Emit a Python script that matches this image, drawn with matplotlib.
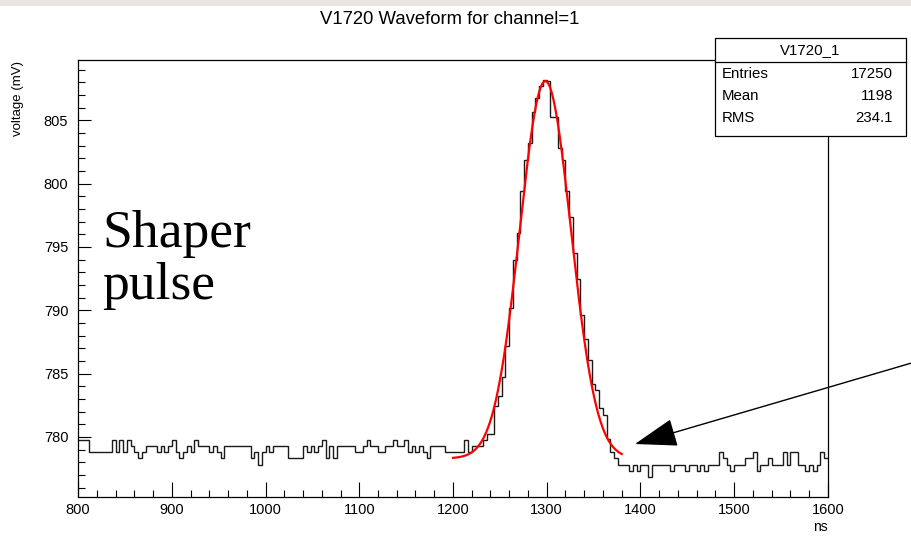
import numpy as np
import matplotlib
matplotlib.use("Agg")
import matplotlib.pyplot as plt
from matplotlib.patches import Rectangle

# ---------------- data ----------------
bin_start = 800.0      # ns
bin_width = 4.0        # ns

baseline_pre_mv = [
    779.77, 779.77, 779.77, 778.79, 778.79, 778.79, 778.79, 778.79, 778.79, 779.77,
    778.79, 779.77, 778.79, 779.77, 779.28, 778.79, 778.30, 778.79, 779.28, 779.28,
    779.28, 778.79, 779.28, 778.79, 779.28, 779.77, 778.79, 778.30, 778.79, 779.28,
    778.79, 779.77, 779.28, 779.28, 779.28, 778.79, 779.28, 778.79, 778.30, 779.28,
    779.28, 779.28, 779.28, 779.28, 779.28, 779.28, 778.30, 778.79, 777.81, 778.79,
    779.28, 778.79, 779.28, 779.28, 779.28, 779.28, 778.30, 778.30, 778.30, 778.30,
    779.28, 778.79, 779.28, 778.79, 779.28, 779.77, 778.30, 779.28, 778.30, 779.28,
    779.28, 779.28, 779.28, 779.28, 778.79, 778.79, 779.28, 779.77, 779.28, 779.28,
    778.79, 778.79, 779.28, 779.28, 779.77, 779.28, 779.28, 779.77, 778.79, 779.28,
    778.79, 779.28, 778.79, 778.30, 779.28, 779.28, 779.28, 779.28, 778.79, 778.79,
    778.79, 778.79, 778.79,
]

pulse_mv = [
    779.77, 778.79, 779.28, 779.28, 779.28, 779.77, 780.26, 780.26, 782.40, 783.20,
    784.70, 787.20, 790.20, 794.00, 796.10, 799.40, 801.90, 803.20, 805.70, 806.80,
    807.70, 808.20, 808.10, 805.30, 805.30, 802.80, 801.90, 799.40, 797.40, 794.50,
    792.50, 789.60, 787.70, 786.10, 784.20, 783.70, 782.30, 781.70, 779.80, 778.80,
    778.30, 777.81,
]

baseline_post_mv = [
    777.81, 777.81, 777.32, 777.81, 777.32, 777.81, 777.81, 776.83, 777.81, 777.81,
    777.81, 777.81, 777.81, 777.32, 777.81, 777.81, 777.81, 777.32, 777.81, 777.81,
    777.32, 777.81, 777.32, 777.81, 777.81, 777.81, 778.79, 778.30, 777.81, 777.32,
    777.81, 777.81, 777.81, 778.30, 778.30, 778.79, 777.32, 777.81, 777.81, 778.30,
    777.81, 777.81, 777.81, 778.79, 777.81, 778.79, 778.79, 777.81, 777.81, 777.32,
    777.81, 777.32, 777.81, 778.79, 778.30,
]

# Gaussian fit (red curve) parameters
fit_const = 778.30
fit_amp = 29.8
fit_mean = 1298.5
fit_sigma = 27.3
fit_range = (1200.0, 1380.0)

title = "V1720 Waveform for channel=1"
stats_name = "V1720_1"
stats_labels = ["Entries", "Mean", "RMS"]
stats_values = ["17250", "1198", "234.1"]

x_ticks = [800, 900, 1000, 1100, 1200, 1300, 1400, 1500, 1600]
y_ticks = [780, 785, 790, 795, 800, 805]

# ---------------- figure ----------------
W, H = 912, 546
fig = plt.figure(figsize=(W / 100, H / 100), dpi=100)
plt.rcParams['font.family'] = ['Liberation Sans', 'DejaVu Sans']

def fx(px):
    return px / W

def fy(py):
    return 1 - py / H

# light grey strip at the very top
fig.add_artist(Rectangle((0, fy(6)), 1, 6 / H, transform=fig.transFigure,
                         color='#e9e6e2', lw=0, zorder=0))

ax = fig.add_axes([fx(78), fy(497), fx(828) - fx(78), fy(60) - fy(497)])

values = np.array(baseline_pre_mv + pulse_mv + baseline_post_mv)
edges = bin_start + bin_width * np.arange(len(values) + 1)
ax.stairs(values, edges, color='#1a1a1a', lw=1.0, baseline=None)

xf = np.linspace(fit_range[0], fit_range[1], 400)
yf = fit_const + fit_amp * np.exp(-(xf - fit_mean) ** 2 / (2 * fit_sigma ** 2))
ax.plot(xf, yf, color='#ff0000', lw=1.6)

ax.set_xlim(800, 1600)
ax.set_ylim(775.25, 809.77)

ax.set_xticks(x_ticks)
ax.set_xticks(np.arange(800, 1601, 20), minor=True)
ax.set_yticks(y_ticks)
ax.set_yticks(np.arange(776, 810, 1), minor=True)

ax.tick_params(axis='x', which='major', direction='in', length=11, width=0.8,
               labelsize=10.5, pad=4, top=False)
ax.tick_params(axis='x', which='minor', direction='in', length=5, width=0.8, top=False)
ax.tick_params(axis='y', which='major', direction='in', length=9, width=0.8,
               labelsize=10.5, pad=7, right=False)
ax.tick_params(axis='y', which='minor', direction='in', length=5, width=0.8, right=False)
for s in ax.spines.values():
    s.set_linewidth(0.9)
    s.set_color('black')

# title and axis labels
fig.text(fx(450), fy(20), title, ha='center', va='center', fontsize=13.3)
fig.text(fx(18), fy(61), "voltage (mV)", rotation=90, ha='center', va='top', fontsize=9.5)
fig.text(fx(828), fy(527), "ns", ha='right', va='center', fontsize=10)

# big annotation text
fig.text(fx(102), fy(299), "Shaper\npulse", ha='left', va='baseline',
         fontsize=38.5, family='Liberation Serif', linespacing=1.12)

# stats box
bx0, bx1, by0, by1 = 715, 906, 38, 136
fig.add_artist(Rectangle((fx(bx0), fy(by1)), fx(bx1) - fx(bx0), fy(by0) - fy(by1),
                         transform=fig.transFigure, facecolor='white',
                         edgecolor='black', lw=0.9, zorder=5))
fig.add_artist(plt.Line2D([fx(bx0), fx(bx1)], [fy(62), fy(62)],
                          transform=fig.transFigure, color='black', lw=0.9, zorder=6))
fig.text(fx((bx0 + bx1) / 2), fy(50), stats_name, ha='center', va='center',
         fontsize=10.8, zorder=7)
for i, (lab, val) in enumerate(zip(stats_labels, stats_values)):
    yy = 74 + 22 * i
    fig.text(fx(722), fy(yy), lab, ha='left', va='center', fontsize=10.8, zorder=7)
    fig.text(fx(893), fy(yy), val, ha='right', va='center', fontsize=10.8, zorder=7)

# arrow
fig.add_artist(matplotlib.patches.FancyArrowPatch(
    (915, H - 362), (635, H - 444), transform=None,
    arrowstyle='-|>,head_length=2.7,head_width=0.9', mutation_scale=10,
    color='black', lw=1.0, shrinkA=0, shrinkB=0, zorder=8))

fig.savefig("out.png", dpi=100)
